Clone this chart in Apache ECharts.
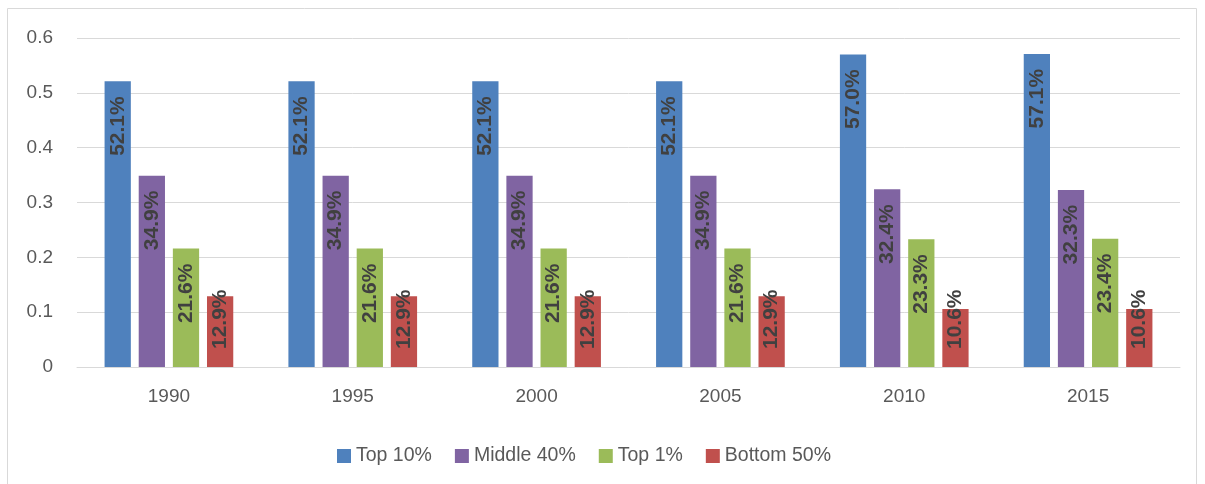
<!DOCTYPE html>
<html>
<head>
<meta charset="utf-8">
<script src="https://cdn.jsdelivr.net/npm/echarts@6/dist/echarts.min.js"></script>
<style>html,body{margin:0;padding:0;background:#fff}#c{width:1205px;height:484px}</style>
</head>
<body>
<div id="c"></div>
<script>
const categories = ['1990','1995','2000','2005','2010','2015'];
const top10 = [0.521,0.521,0.521,0.521,0.570,0.571];
const middle40 = [0.349,0.349,0.349,0.349,0.324,0.323];
const top1 = [0.216,0.216,0.216,0.216,0.233,0.234];
const bottom50 = [0.129,0.129,0.129,0.129,0.106,0.106];
const seriesNames = ['Top 10%','Middle 40%','Top 1%','Bottom 50%'];
const colors = ['#4f81bd','#8064a2','#9bbb59','#c0504d'];

const font = 'Liberation Sans, Arial, sans-serif';
const fmt = p => (p.value*100).toFixed(1) + '%';
function mk(name, data, color, pos, dist, align) {
  return {
    name, type:'bar', data,
    itemStyle:{color},
    barGap:'30%', barCategoryGap:'30%',
    label:{show:true, position:pos, distance:dist, rotate:90, align:align, verticalAlign:'middle',
      formatter:fmt, color:'#404040', fontWeight:'bold', fontSize:21, fontFamily:font}
  };
}
const chart = echarts.init(document.getElementById('c'));
chart.setOption({
  animation:false,
  color:colors,
  graphic:[{type:'rect', shape:{x:7.5,y:8.5,width:1189,height:490}, style:{fill:null, stroke:'#d9d9d9', lineWidth:1}, silent:true}],
  grid:{left:77, right:25, top:38, bottom:117},
  legend:{left:332, top:441, itemWidth:14, itemHeight:14, itemGap:23, icon:'rect',
    textStyle:{color:'#595959', fontSize:19.5, fontFamily:font},
    data:seriesNames},
  xAxis:{type:'category', data:categories,
    axisLine:{lineStyle:{color:'#d9d9d9', width:1}}, axisTick:{show:false},
    axisLabel:{color:'#595959', fontSize:19, fontFamily:font, margin:20}},
  yAxis:{type:'value', min:0, max:0.6, interval:0.1,
    axisLine:{show:false}, axisTick:{show:false},
    splitLine:{lineStyle:{color:'#d9d9d9', width:1}},
    axisLabel:{color:'#595959', fontSize:19, fontFamily:font, margin:24,
      formatter: v => v===0 ? '0' : v.toFixed(1)}},
  series:[
    mk(seriesNames[0], top10, colors[0], 'insideTop', 15, 'right'),
    mk(seriesNames[1], middle40, colors[1], 'insideTop', 15, 'right'),
    mk(seriesNames[2], top1, colors[2], 'insideTop', 15, 'right'),
    mk(seriesNames[3], bottom50, colors[3], 'insideBottom', 18, 'left')
  ]
});
</script>
</body>
</html>
